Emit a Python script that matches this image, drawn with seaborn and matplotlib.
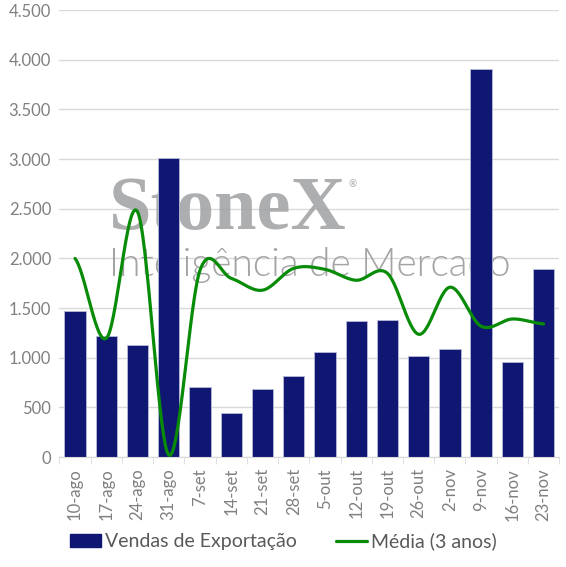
import numpy as np
import pandas as pd
import matplotlib
matplotlib.use("Agg")
import matplotlib.pyplot as plt
import matplotlib.ticker as mticker
from matplotlib.patches import Patch
from matplotlib.lines import Line2D
import seaborn as sns

# weekly export sales vs 3-year average
semanas = ["10-ago", "17-ago", "24-ago", "31-ago", "7-set", "14-set", "21-set", "28-set",
           "5-out", "12-out", "19-out", "26-out", "2-nov", "9-nov", "16-nov", "23-nov"]
vendas = [1470, 1218, 1128, 3010, 705, 443, 683, 814,
          1055, 1367, 1377, 1015, 1085, 3910, 955, 1889]
media_3anos = [2000, 1196, 2470, 20, 1880, 1800, 1680, 1900,
               1890, 1780, 1850, 1236, 1710, 1317, 1390, 1340]

AZUL = "#0F1773"
VERDE = "#088C08"
CINZA = "#808080"

df = pd.DataFrame({"semana": semanas, "vendas": vendas})


def suaviza(y, n=30):
    # Excel-like smoothed line (Catmull-Rom through the points)
    y = np.asarray(y, dtype=float)
    x = np.arange(len(y), dtype=float)
    xs, ys = [], []
    for i in range(len(y) - 1):
        p0 = y[i - 1] if i > 0 else y[i]
        p3 = y[i + 2] if i + 2 < len(y) else y[i + 1]
        p1, p2 = y[i], y[i + 1]
        t = np.linspace(0, 1, n, endpoint=False)
        c1 = p1 + (p2 - p0) / 6
        c2 = p2 - (p3 - p1) / 6
        ys.append((1 - t) ** 3 * p1 + 3 * (1 - t) ** 2 * t * c1 + 3 * (1 - t) * t ** 2 * c2 + t ** 3 * p2)
        xs.append(x[i] + t)
    xs.append([x[-1]])
    ys.append([y[-1]])
    return np.concatenate(xs), np.concatenate(ys)


sns.set_style("white")
plt.rcParams["font.family"] = ["Lato", "DejaVu Sans"]

fig = plt.figure(figsize=(5.66, 5.67), dpi=100)
ax = fig.add_axes([0.105, 0.194, 0.883, 0.788])

ax.set_axisbelow(True)
ax.yaxis.grid(True, color="#D9D9D9", linewidth=1.0, zorder=0)

# watermark
ax.text(0.10, 0.51, "StoneX", transform=ax.transAxes, fontsize=55, fontweight="bold",
        family="Liberation Serif", color="#A3A5A8", alpha=0.9, zorder=1, va="baseline")
ax.text(0.578, 0.605, "®", transform=ax.transAxes, fontsize=7, color="#A3A5A8", zorder=1)
ax.text(0.10, 0.405, "Inteligência de Mercado", transform=ax.transAxes, fontsize=28,
        fontweight=300, color="#9A9A9A", alpha=0.9, zorder=1, va="baseline")

sns.barplot(data=df, x="semana", y="vendas", color=AZUL, saturation=1, width=0.68,
            edgecolor="#B8BBD6", linewidth=0.6, ax=ax, zorder=2)

xs, ys = suaviza(media_3anos)
sns.lineplot(x=xs, y=ys, color=VERDE, linewidth=2.3, ax=ax, zorder=3, sort=False)

ax.set_xlim(-0.5, len(semanas) - 0.5)
ax.set_ylim(0, 4500)
ax.yaxis.set_major_locator(mticker.MultipleLocator(500))
ax.yaxis.set_major_formatter(mticker.FuncFormatter(lambda v, p: f"{v:,.0f}".replace(",", ".")))
ax.set_xlabel("")
ax.set_ylabel("")

for s in ["top", "right", "left"]:
    ax.spines[s].set_visible(False)
ax.spines["bottom"].set_color("#D9D9D9")

ax.set_xticks(range(len(semanas)))
ax.set_xticklabels(semanas, rotation=90)
ax.set_xticks(np.arange(-0.5, len(semanas)), minor=True)
ax.tick_params(axis="x", which="major", length=0, pad=8, labelsize=12, labelcolor=CINZA)
ax.tick_params(axis="x", which="minor", length=5, color="#D9D9D9", bottom=True)
ax.tick_params(axis="y", length=0, labelsize=12, labelcolor=CINZA, pad=6)

handles = [Patch(facecolor=AZUL, edgecolor=AZUL),
           Line2D([0], [0], color=VERDE, linewidth=2.3)]
fig.legend(handles, ["Vendas de Exportação", "Média (3 anos)"], loc="center",
           bbox_to_anchor=(0.5, 0.045), ncol=2, frameon=False, fontsize=14,
           labelcolor="#595959", handlelength=1.6, handletextpad=0.2, columnspacing=2.0)

fig.savefig("out.png", dpi=100)
